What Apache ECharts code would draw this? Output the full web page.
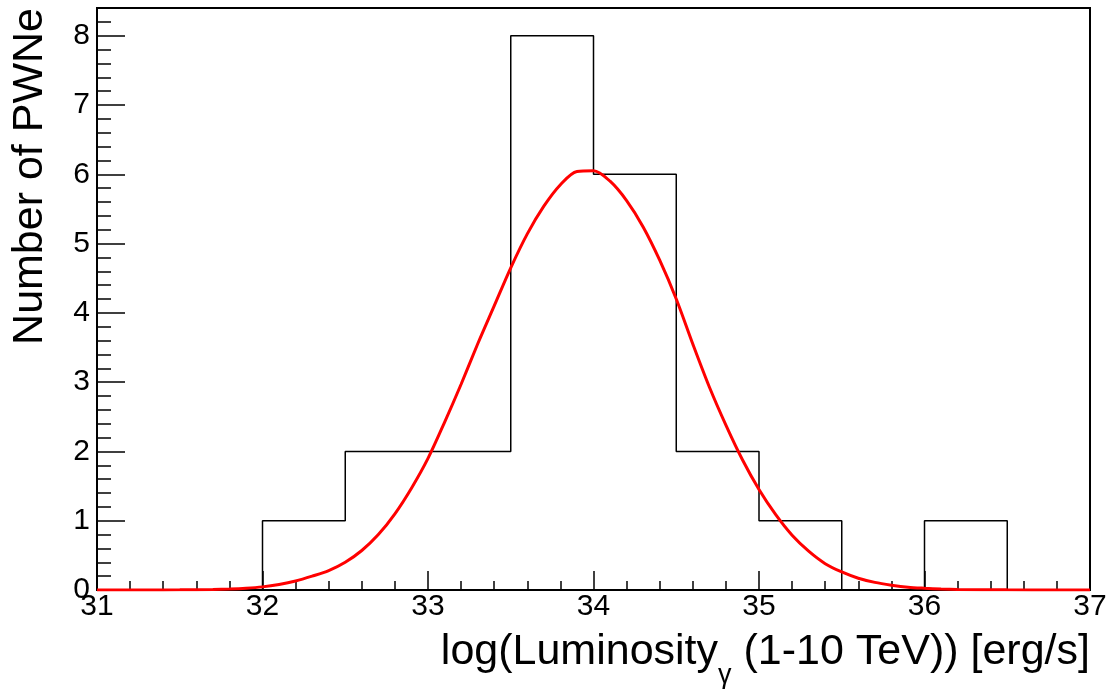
<!DOCTYPE html>
<html>
<head>
<meta charset="utf-8">
<script src="https://cdn.jsdelivr.net/npm/echarts@6/dist/echarts.min.js"></script>
<style>
  html, body { margin: 0; padding: 0; background: #fff; }
  #main { width: 1112px; height: 695px; }
</style>
</head>
<body>
<div id="main"></div>
<script>
// histogram bins (left edges, width 0.5) and counts
const binEdges = [31, 31.5, 32, 32.5, 33, 33.5, 34, 34.5, 35, 35.5, 36, 36.5, 37];
const binCounts = [0, 0, 1, 2, 2, 8, 6, 2, 1, 0, 1, 0];

// red fit curve
const fitX = [31, 31.3, 31.5, 31.7, 31.8, 31.9, 32, 32.1, 32.2, 32.3, 32.4, 32.5, 32.6, 32.7, 32.8, 32.9,
  33, 33.1, 33.2, 33.3, 33.4, 33.5, 33.6, 33.7, 33.8, 33.9,
  34, 34.1, 34.2, 34.3, 34.4, 34.5, 34.6, 34.7, 34.8, 34.9,
  35, 35.1, 35.2, 35.3, 35.4, 35.5, 35.6, 35.7, 35.8, 35.9, 36, 36.1, 36.2, 36.5, 36.8, 37];
const fitY = [0, 0.001, 0.003, 0.008, 0.014, 0.025, 0.045, 0.08, 0.13, 0.2, 0.28, 0.4, 0.57, 0.8, 1.1, 1.47,
  1.9, 2.42, 2.97, 3.55, 4.1, 4.65, 5.14, 5.54, 5.85, 6.04,
  6.05, 5.9, 5.62, 5.24, 4.76, 4.2, 3.55, 2.93, 2.38, 1.88,
  1.45, 1.09, 0.79, 0.56, 0.38, 0.26, 0.17, 0.11, 0.07, 0.04, 0.025, 0.014, 0.008, 0.002, 0.0005, 0];

const xTicks = [31, 32, 33, 34, 35, 36, 37];
const yTicks = [0, 1, 2, 3, 4, 5, 6, 7, 8];

const histData = binCounts.map((c, i) => [binEdges[i], c]);
histData.push([binEdges[binEdges.length - 1], 0]);
const fitData = fitX.map((x, i) => [x, fitY[i]]);

const font = 'Liberation Sans, Arial, Helvetica, sans-serif';

const chart = echarts.init(document.getElementById('main'));
chart.setOption({
    animation: false,
    backgroundColor: '#fff',
    grid: {
        left: 97, right: 22, top: 8, bottom: 105,
        outerBoundsMode: 'none',
        containLabel: false,
        show: true, borderColor: '#000', borderWidth: 2
    },
    xAxis: {
        type: 'value',
        min: xTicks[0], max: xTicks[xTicks.length - 1], interval: 1,
        axisLine: { onZero: false, lineStyle: { color: '#000', width: 2 } },
        axisTick: { inside: true, length: 19, lineStyle: { color: '#000', width: 1.5 } },
        minorTick: { show: true, splitNumber: 5, length: 9, lineStyle: { color: '#000', width: 1.5 } },
        splitLine: { show: false },
        axisLabel: { color: '#000', fontSize: 30, fontFamily: font, margin: 2 },
        name: 'log(Luminosity{sub|γ} (1-10 TeV)) [erg/s]',
        nameLocation: 'end',
        nameGap: 0,
        nameMoveOverlap: false,
        nameTextStyle: {
            color: '#000', fontSize: 43, fontFamily: font, lineHeight: 44,
            align: 'right', verticalAlign: 'top', padding: [40, 0, 0, 0],
            rich: { sub: { fontSize: 27, fontFamily: font, color: '#000', verticalAlign: 'top', lineHeight: 27, padding: [32, 0, 0, 0] } }
        }
    },
    yAxis: {
        type: 'value',
        min: 0, max: 8.4, interval: 1,
        axisLine: { lineStyle: { color: '#000', width: 2 } },
        axisTick: { inside: true, length: 28, lineStyle: { color: '#000', width: 1.5 } },
        minorTick: { show: true, splitNumber: 5, length: 14, lineStyle: { color: '#000', width: 1.5 } },
        splitLine: { show: false },
        axisLabel: { color: '#000', fontSize: 30, fontFamily: font, margin: 7, showMaxLabel: false },
        name: 'Number of PWNe',
        nameLocation: 'end',
        nameRotate: 90,
        nameGap: 0,
        nameMoveOverlap: false,
        nameTextStyle: {
            color: '#000', fontSize: 43, fontFamily: font,
            align: 'right', verticalAlign: 'bottom', padding: [0, 0, 45, 0]
        }
    },
    series: [
        {
            type: 'line',
            step: 'end',
            data: histData,
            showSymbol: false,
            lineStyle: { color: '#000', width: 1.5 },
            z: 2
        },
        {
            type: 'line',
            data: fitData,
            smooth: 0.3,
            showSymbol: false,
            lineStyle: { color: '#ff0000', width: 3 },
            z: 3
        }
    ]
});
</script>
</body>
</html>
